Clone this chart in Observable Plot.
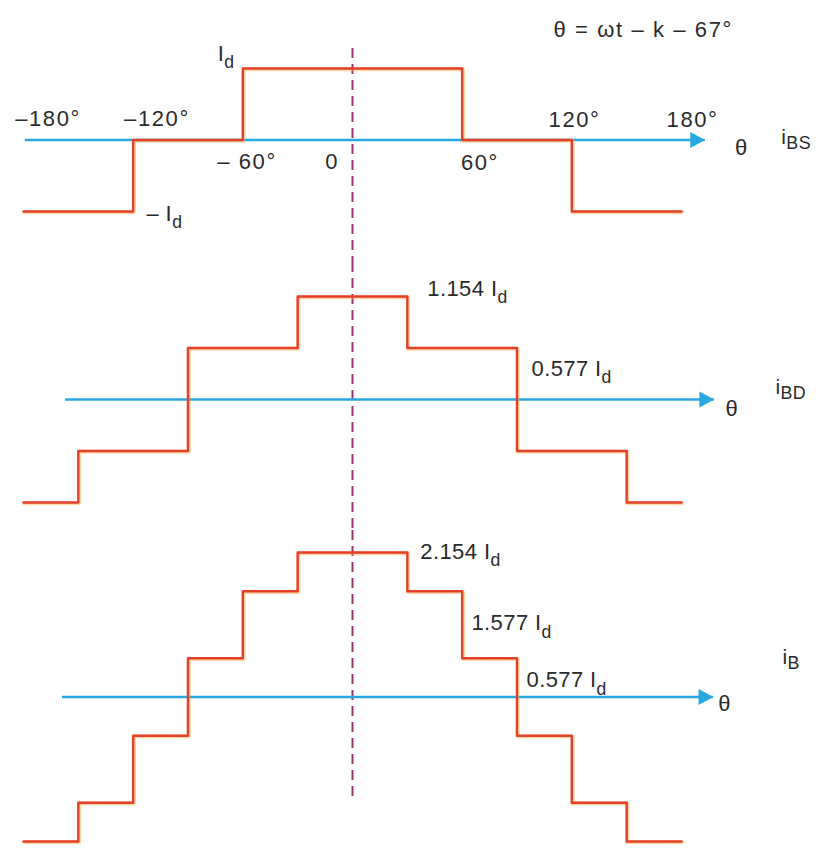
<!DOCTYPE html>
<html>
<head>
<meta charset="utf-8">
<script src="https://cdn.jsdelivr.net/npm/d3@7"></script>
<script src="https://cdn.jsdelivr.net/npm/@observablehq/plot@0.6"></script>
<style>
  html, body { margin: 0; padding: 0; background: #ffffff; }
  #chart { position: relative; width: 816px; height: 850px; overflow: hidden; }
  #chart svg { display: block; }
</style>
</head>
<body>
<div id="chart"></div>
<script>
// Switching angles (deg) and per-unit levels (× Id) of the three bridge currents.
// Each sequence is a step-after series: a level holds until the next angle.
const thetaBS = [-180, -120, -60, 60, 120, 180];
const levelBS = [-1, 0, 1, 0, -1, -1];

const thetaBD = [-180, -150, -90, -30, 30, 90, 150, 180];
const levelBD = [-1.154, -0.577, 0.577, 1.154, 0.577, -0.577, -1.154, -1.154];

const thetaB = [-180, -150, -120, -90, -60, -30, 30, 60, 90, 120, 150, 180];
const levelB = [-2.154, -1.577, -0.577, 0.577, 1.577, 2.154, 1.577, 0.577, -0.577, -1.577, -2.154, -2.154];

// Angle labels on the top axis
const tickAngles = [-180, -120, -60, 0, 60, 120, 180];
const tickLabels = ["–180°", "–120°", "– 60°", "0", "60°", "120°", "180°"];

// Level annotations (angle of the edge they sit beside, level, text)
const notesBD = [
  {theta: 30, level: 1.154, label: "1.154 I_d"},
  {theta: 90, level: 0.577, label: "0.577 I_d"}
];
const notesB = [
  {theta: 30, level: 2.154, label: "2.154 I_d"},
  {theta: 60, level: 1.577, label: "1.577 I_d"},
  {theta: 90, level: 0.577, label: "0.577 I_d"}
];

const seriesNames = ["i_BS", "i_BD", "i_B"];
const equation = "θ = ωt – k – 67°";

// ---- styling ----
const FONT = "'Liberation Sans', Arial, Helvetica, sans-serif";
const WAVE = "#e3402a";
const GLOW = "#f6a640";
const AXIS = "#29a8e0";
const MARK = "#a0306e";

// right-pointing filled arrowhead, tip at the anchor point
const arrowHead = {
  draw(ctx) {
    ctx.moveTo(0, 0);
    ctx.lineTo(-15, -8);
    ctx.lineTo(-15, 8);
    ctx.closePath();
  }
};

const rows = (thetas, levels) => thetas.map((t, i) => ({theta: t, level: levels[i]}));

function waveform(data) {
  return [
    Plot.line(data, {x: "theta", y: "level", curve: "step-after", stroke: GLOW, strokeWidth: 4, strokeOpacity: 0.45, dx: 0.8, dy: 0.8}),
    Plot.line(data, {x: "theta", y: "level", curve: "step-after", stroke: WAVE, strokeWidth: 2.4})
  ];
}

function thetaAxis(start, end, thetaLabel, name) {
  return [
    Plot.ruleY([{y: 0, x1: start, x2: end}], {y: "y", x1: "x1", x2: "x2", stroke: AXIS, strokeWidth: 2.4}),
    Plot.dot([{x: end, y: 0}], {x: "x", y: "y", symbol: arrowHead, fill: AXIS, r: 6}),
    Plot.text([{x: end, y: 0}], {x: "x", y: "y", text: () => "θ", fontSize: 22, dx: thetaLabel[0], dy: thetaLabel[1]}),
    Plot.text([{x: end, y: 0}], {x: "x", y: "y", text: () => name[0], fontSize: 21, textAnchor: "start", dx: name[1], dy: name[2]})
  ];
}

function notes(list, offsets) {
  return list.map((n, i) => Plot.text([n], {
    x: "theta", y: "level", text: "label", fontSize: 22, textAnchor: "start",
    dx: offsets[i][0], dy: offsets[i][1]
  }));
}

function panel({height, marginTop = 0, marginBottom = 0, yDomain, yRange, marks}) {
  return Plot.plot({
    width: 816, height, marginLeft: 23, marginRight: 135, marginTop, marginBottom,
    x: {domain: [-180, 180], range: [23, 681], axis: null},
    y: {domain: yDomain, range: yRange, axis: null},
    style: {fontFamily: FONT, background: "transparent", overflow: "visible", color: "#2b2b2b", letterSpacing: "0.4px"},
    marks
  });
}

// Turn "X_sub" strings into text with a subscript tspan; widen the degree labels
function finish(svg) {
  d3.select(svg).selectAll("text").each(function () {
    const s = this.textContent;
    const el = d3.select(this);
    if (s.includes("°")) el.attr("letter-spacing", "1.6px");
    const k = s.indexOf("_");
    if (k < 0) return;
    const sub = s.slice(k + 1);
    el.text(null);
    el.append("tspan").text(s.slice(0, k));
    const current = sub === "d";
    el.append("tspan")
      .attr("dy", current ? "0.45em" : "0.3em")
      .attr("font-size", current ? "0.8em" : "0.85em")
      .text(sub);
  });
  return svg;
}

// label offsets around the axis of the first panel
const tickOffsets = [[24.5, -21.5], [23.8, -21.5], [4.2, 21.5], [-21, 21.5], [17.8, 22.5], [2.7, -20.5], [11, -20.5]];

// ---- panel 1: star-winding current ----
const p1 = panel({
  height: 262, marginTop: 48, yDomain: [-1, 1], yRange: [211, 68],
  marks: [
    Plot.ruleX([0], {stroke: MARK, strokeWidth: 2, strokeDasharray: "10,6"}),
    ...thetaAxis(-179, 193, [36, 7.5], [seriesNames[0], 76, -3]),
    ...waveform(rows(thetaBS, levelBS)),
    ...tickAngles.map((a, i) => Plot.text([a], {
      x: d => d, y: () => 0, text: () => tickLabels[i], fontSize: 22,
      dx: tickOffsets[i][0], dy: tickOffsets[i][1]
    })),
    Plot.text([1], {x: () => -60, y: d => d, text: () => "I_d", fontSize: 22, textAnchor: "start", dx: -25, dy: -15}),
    Plot.text([-1], {x: () => -120, y: d => d, text: () => "– I_d", fontSize: 22, textAnchor: "start", dx: 13.3, dy: 2}),
    Plot.text([equation], {frameAnchor: "top-left", text: d => d, fontSize: 22, textAnchor: "start", dx: 530, dy: -27})
  ]
});

// ---- panel 2: delta-winding current ----
const p2 = panel({
  height: 268, yDomain: [-1.154, 1.154], yRange: [240, 34],
  marks: [
    Plot.ruleX([0], {stroke: MARK, strokeWidth: 2, strokeDasharray: "10,6"}),
    ...thetaAxis(-157, 198, [17.5, 9], [seriesNames[1], 61, -12.7]),
    ...waveform(rows(thetaBD, levelBD)),
    ...notes(notesBD, [[20, -8], [14.5, 20.5]])
  ]
});

// ---- panel 3: line current (sum) ----
const p3 = panel({
  height: 320, marginBottom: 50, yDomain: [-2.154, 2.154], yRange: [311, 22],
  marks: [
    Plot.ruleX([0], {stroke: MARK, strokeWidth: 2, strokeDasharray: "10,6"}),
    ...thetaAxis(-158.7, 197.5, [11, 6.5], [seriesNames[2], 69, -40]),
    ...waveform(rows(thetaB, levelB)),
    ...notes(notesB, [[13, -1], [9.3, 32], [9.5, 22]])
  ]
});

const chart = document.getElementById("chart");
for (const svg of [p1, p2, p3]) chart.appendChild(finish(svg));
</script>
</body>
</html>
